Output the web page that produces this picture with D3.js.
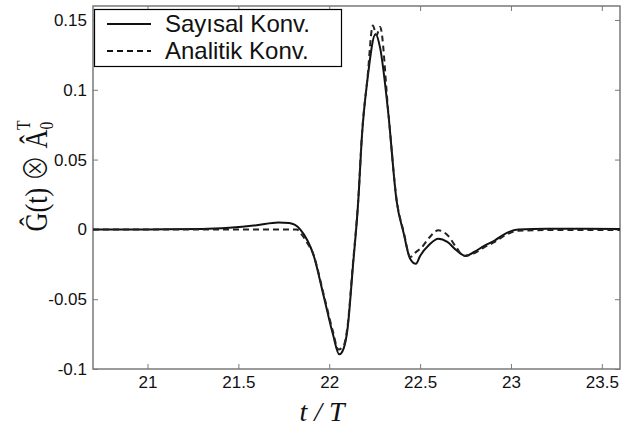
<!DOCTYPE html>
<html><head><meta charset="utf-8">
<script src="https://cdn.jsdelivr.net/npm/d3@7"></script>
<style>body{margin:0;background:#fff}svg{display:block}</style>
</head><body>
<svg id="c" width="621" height="427"></svg>
<script>
// Data
const seriesNames = ["Sayısal Konv.", "Analitik Konv."];
const tSayisal = [20.7, 21.0, 21.3, 21.45, 21.6, 21.72, 21.78, 21.84, 21.88, 21.91, 21.97, 22.02, 22.055, 22.08, 22.1, 22.13, 22.16, 22.18, 22.21, 22.255, 22.28, 22.325, 22.37, 22.41, 22.445, 22.477, 22.5, 22.55, 22.6, 22.65, 22.7, 22.75, 22.8, 22.85, 22.91, 22.97, 23.04, 23.2, 23.4, 23.6];
const vSayisal = [0, 0, 0.0003, 0.0012, 0.003, 0.005, 0.0045, 0, -0.008, -0.017, -0.048, -0.075, -0.0895, -0.085, -0.072, -0.027, 0.021, 0.067, 0.107, 0.14, 0.13, 0.083, 0.021, -0.003, -0.021, -0.0246, -0.019, -0.011, -0.0067, -0.009, -0.015, -0.019, -0.016, -0.012, -0.008, -0.003, 0, 0.0005, 0.0005, 0.0003];
const tAnalitik = [20.7, 21.82, 21.85, 21.88, 21.91, 21.97, 22.02, 22.05, 22.08, 22.1, 22.13, 22.16, 22.18, 22.21, 22.24, 22.26, 22.28, 22.325, 22.37, 22.41, 22.446, 22.47, 22.51, 22.55, 22.6, 22.65, 22.7, 22.74, 22.8, 22.85, 22.91, 22.97, 23.04, 23.2, 23.6];
const vAnalitik = [0, 0, -0.004, -0.01, -0.017, -0.047, -0.073, -0.086, -0.083, -0.07, -0.025, 0.022, 0.068, 0.108, 0.146, 0.139, 0.145, 0.084, 0.022, -0.002, -0.0198, -0.017, -0.0127, -0.006, -0.0007, -0.004, -0.013, -0.019, -0.017, -0.013, -0.009, -0.004, -0.001, -0.0005, -0.0005];
const xTicks = [21, 21.5, 22, 22.5, 23, 23.5];
const yTicks = [-0.1, -0.05, 0, 0.05, 0.1, 0.15];
const xTickLabels = ["21", "21.5", "22", "22.5", "23", "23.5"];
const yTickLabels = ["-0.1", "-0.05", "0", "0.05", "0.1", "0.15"];

const L = 93, R = 620, T = 6, B = 369;
const svg = d3.select("#c");
const x = d3.scaleLinear().domain([20.7, 23.6]).range([L, R]);
const y = d3.scaleLinear().domain([-0.1, 0.16]).range([B, T]);
const axisCol = "#7a7a7a";

// frame
svg.append("rect").attr("x", L).attr("y", T).attr("width", R - L).attr("height", B - T)
  .attr("fill", "none").attr("stroke", axisCol).attr("stroke-width", 1.5);

// axes
const fontTick = "Liberation Sans, Arial, sans-serif";
const gx = svg.append("g").attr("transform", `translate(0,${B})`)
  .call(d3.axisBottom(x).tickValues(xTicks).tickFormat((d, i) => xTickLabels[i]).tickSizeInner(-5).tickSizeOuter(0).tickPadding(7));
const gy = svg.append("g").attr("transform", `translate(${L},0)`)
  .call(d3.axisLeft(y).tickValues(yTicks).tickFormat((d, i) => yTickLabels[i]).tickSizeInner(-5).tickSizeOuter(0).tickPadding(6));
const gxt = svg.append("g").attr("transform", `translate(0,${T})`)
  .call(d3.axisTop(x).tickValues(xTicks).tickFormat("").tickSizeInner(-5).tickSizeOuter(0));
const gyr = svg.append("g").attr("transform", `translate(${R},0)`)
  .call(d3.axisRight(y).tickValues(yTicks).tickFormat("").tickSizeInner(-5).tickSizeOuter(0));
[gx, gy, gxt, gyr].forEach(g => {
  g.select(".domain").remove();
  g.selectAll(".tick line").attr("stroke", axisCol).attr("stroke-width", 1);
  g.selectAll(".tick text").attr("fill", "#111").style("font-family", fontTick).style("font-size", "17px");
});

// lines
const line = d3.line().x(d => x(d[0])).y(d => y(d[1])).curve(d3.curveMonotoneX);
const dS = tSayisal.map((t, i) => [t, vSayisal[i]]);
const dA = tAnalitik.map((t, i) => [t, vAnalitik[i]]);
svg.append("path").datum(dS).attr("d", line).attr("fill", "none").attr("stroke", "#111").attr("stroke-width", 2);
svg.append("path").datum(dA).attr("d", line).attr("fill", "none").attr("stroke", "#222").attr("stroke-width", 2).attr("stroke-dasharray", "6,4");

// legend
const lg = svg.append("g");
lg.append("rect").attr("x", 94.5).attr("y", 9.5).attr("width", 247).attr("height", 57)
  .attr("fill", "#fff").attr("stroke", "#000").attr("stroke-width", 1.2);
[0, 1].forEach(i => {
  const yy = [24, 51][i];
  lg.append("line").attr("x1", 107).attr("x2", 151).attr("y1", yy).attr("y2", yy)
    .attr("stroke", "#111").attr("stroke-width", 2).attr("stroke-dasharray", i ? "6,4" : null);
  lg.append("text").attr("x", 165).attr("y", yy + 8).text(seriesNames[i])
    .style("font-family", fontTick).style("font-size", "24px").attr("fill", "#111");
});

// axis titles
svg.append("text").attr("x", 322).attr("y", 421).attr("text-anchor", "middle")
  .style("font-family", "Liberation Serif, Times New Roman, serif").style("font-size", "28px").style("font-style", "italic")
  .attr("fill", "#111").text("t / T");
const yt = svg.append("text").attr("transform", "translate(47,176) scale(1,0.82) rotate(-90)").attr("text-anchor", "middle")
  .style("font-family", "Liberation Serif, Times New Roman, serif").style("font-size", "32px").attr("fill", "#111");
yt.append("tspan").text("Ĝ(t) ");
yt.append("tspan").style("font-family", "Noto Sans CJK JP, DejaVu Serif, serif").style("font-weight", "300").text("⊗");
yt.append("tspan").text(" Â");
yt.append("tspan").attr("dy", 6).style("font-size", "19px").text("0");
yt.append("tspan").attr("dx", -10).attr("dy", -23).style("font-size", "19px").text("T");
</script>
</body></html>
